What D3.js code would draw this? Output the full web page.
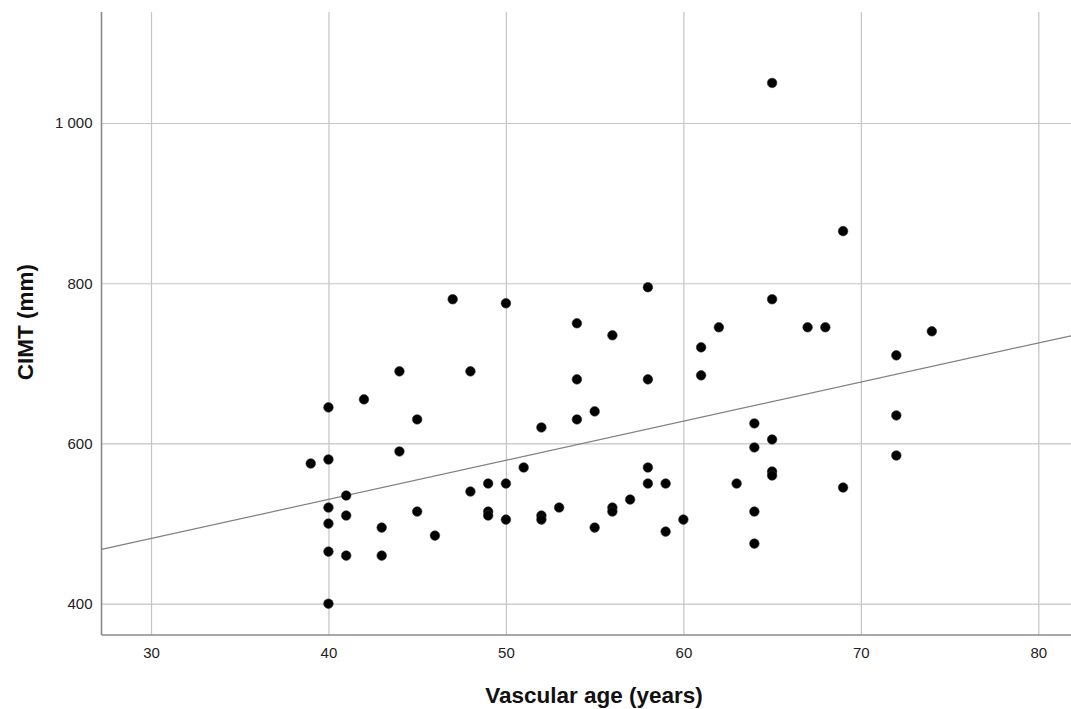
<!DOCTYPE html>
<html>
<head>
<meta charset="utf-8">
<script src="https://cdn.jsdelivr.net/npm/d3@7"></script>
<style>
  html, body { margin: 0; padding: 0; background: #fff; }
  svg { display: block; font-family: "Liberation Sans", Arial, sans-serif; }
</style>
</head>
<body>
<svg id="chart" width="1071" height="709"></svg>
<script>
// ---- Data ----
const ages = [
  39,
  40, 40, 40, 40, 40, 40,
  41, 41, 41,
  42,
  43, 43,
  44, 44,
  45, 45,
  46,
  47,
  48, 48,
  49, 49, 49,
  50, 50, 50,
  51,
  52, 52, 52,
  53,
  54, 54, 54,
  55, 55,
  56, 56, 56,
  57,
  58, 58, 58, 58,
  59, 59,
  60,
  61, 61,
  62,
  63,
  64, 64, 64, 64,
  65, 65, 65, 65, 65,
  67,
  68,
  69, 69,
  72, 72, 72,
  74
];
const cimt = [
  575,
  645, 580, 520, 500, 465, 400,
  535, 510, 460,
  655,
  495, 460,
  690, 590,
  630, 515,
  485,
  780,
  690, 540,
  550, 515, 510,
  775, 550, 505,
  570,
  620, 510, 505,
  520,
  750, 680, 630,
  640, 495,
  735, 520, 515,
  530,
  795, 680, 570, 550,
  550, 490,
  505,
  720, 685,
  745,
  550,
  625, 595, 515, 475,
  1050, 780, 605, 565, 560,
  745,
  745,
  865, 545,
  710, 635, 585,
  740
];
const xTicks = [30, 40, 50, 60, 70, 80];
const yTicks = [400, 600, 800, 1000];
const fitLine = [335, 4.88];   // intercept, slope
const xLabel = "Vascular age (years)";
const yLabel = "CIMT (mm)";

// ---- Layout ----
const svg = d3.select("#chart");
const pLeft = 101.5, pRight = 1071, pTop = 12, pBottom = 635;

const x = d3.scaleLinear().domain([30, 80]).range([151, 1038.3]);
const y = d3.scaleLinear().domain([400, 1000]).range([603.7, 123]);
const xMin = x.invert(pLeft), xMax = x.invert(pRight);

const loc = d3.formatLocale({ decimal: ".", thousands: " ", grouping: [3], currency: ["", ""] });
const fmt = loc.format(",d");

// gridlines
const gx = d3.axisBottom(x).tickValues(xTicks).tickSize(-(pBottom - pTop)).tickFormat("");
svg.append("g").attr("transform", `translate(0,${pBottom})`).call(gx)
  .call(g => g.select(".domain").remove())
  .call(g => g.selectAll("line").attr("stroke", "#c4c4c4").attr("stroke-width", 1.2));
const gy = d3.axisLeft(y).tickValues(yTicks).tickSize(-(pRight - pLeft)).tickFormat("");
svg.append("g").attr("transform", `translate(${pLeft},0)`).call(gy)
  .call(g => g.select(".domain").remove())
  .call(g => g.selectAll("line").attr("stroke", "#c4c4c4").attr("stroke-width", 1.2));

// tick labels
const ax = d3.axisBottom(x).tickValues(xTicks).tickSize(0).tickPadding(12).tickFormat(d3.format("d"));
svg.append("g").attr("transform", `translate(0,${pBottom})`).call(ax)
  .call(g => g.select(".domain").remove())
  .call(g => g.selectAll("text").attr("font-size", 15).attr("fill", "#222")
    .attr("font-family", "Liberation Sans, Arial, sans-serif"));
const ay = d3.axisLeft(y).tickValues(yTicks).tickSize(0).tickPadding(9).tickFormat(fmt);
svg.append("g").attr("transform", `translate(${pLeft},0)`).call(ay)
  .call(g => g.select(".domain").remove())
  .call(g => g.selectAll("text").attr("font-size", 15).attr("fill", "#222")
    .attr("font-family", "Liberation Sans, Arial, sans-serif"));

// axis lines
svg.append("line").attr("x1", pLeft).attr("x2", pLeft).attr("y1", pTop).attr("y2", pBottom)
  .attr("stroke", "#8a8a8a").attr("stroke-width", 1.6);
svg.append("line").attr("x1", pLeft).attr("x2", pRight).attr("y1", pBottom).attr("y2", pBottom)
  .attr("stroke", "#8a8a8a").attr("stroke-width", 1.6);

// fit line
svg.append("line")
  .attr("x1", x(xMin)).attr("y1", y(fitLine[0] + fitLine[1] * xMin))
  .attr("x2", x(xMax)).attr("y2", y(fitLine[0] + fitLine[1] * xMax))
  .attr("stroke", "#808080").attr("stroke-width", 1.2);

// points
const pts = ages.map((a, i) => ({ a, v: cimt[i] }));
svg.append("g").selectAll("circle").data(pts).join("circle")
  .attr("cx", d => x(d.a)).attr("cy", d => y(d.v)).attr("r", 4.8)
  .attr("fill", "#000").attr("stroke", "#333").attr("stroke-width", 0.6);

// axis titles
svg.append("text").attr("x", 594).attr("y", 703).attr("text-anchor", "middle")
  .attr("font-size", 22.5).attr("font-weight", "bold").attr("fill", "#111").text(xLabel);
svg.append("text").attr("transform", "translate(33,322) rotate(-90)").attr("text-anchor", "middle")
  .attr("font-size", 22.5).attr("font-weight", "bold").attr("fill", "#111").text(yLabel);
</script>
</body>
</html>
